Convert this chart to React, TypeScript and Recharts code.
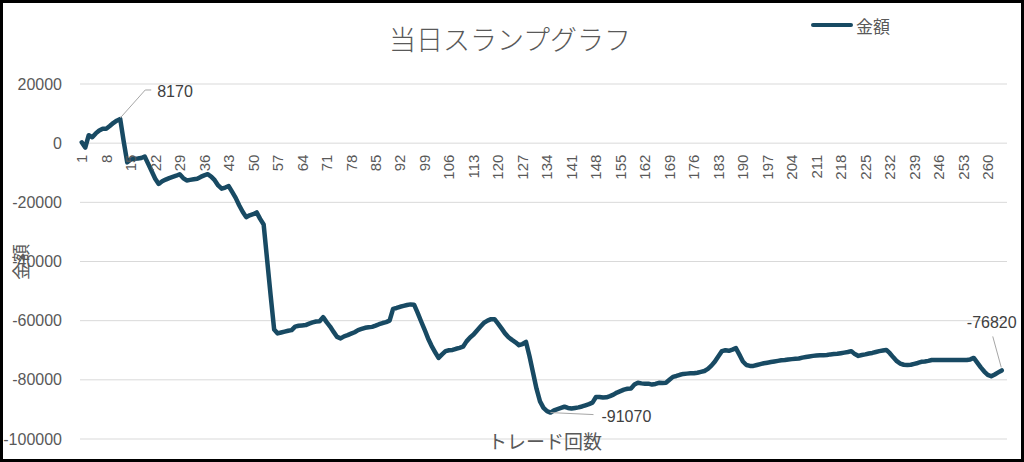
import { CartesianGrid, Line, LineChart, XAxis, YAxis } from "recharts";

// cumulative amount after each trade
const AMOUNTS = [
  300, -1500, 2700, 2000, 3300, 4300, 4900, 4900, 5800, 6800,
  7600, 8170, 500, -6500, -5500, -5300, -5200, -5000, -4500, -7000,
  -9500, -12000, -13800, -12900, -12300, -11800, -11400, -11000, -10500, -11800,
  -12600, -12400, -12200, -12000, -11400, -10900, -10500, -11300, -12500, -14300,
  -15400, -15000, -14500, -16500, -18500, -21000, -23200, -25000, -24400, -24000,
  -23400, -25600, -27500, -39500, -51500, -63000, -64300, -64000, -63700, -63400,
  -63200, -62000, -61700, -61600, -61500, -61000, -60600, -60300, -60200, -58800,
  -60500, -62000, -63800, -65500, -66000, -65300, -64900, -64400, -63900, -63200,
  -62800, -62400, -62200, -62100, -61700, -61200, -60800, -60500, -60000, -56000,
  -55700, -55300, -55000, -54700, -54500, -54600, -57300, -60200, -63000, -66000,
  -68500, -70600, -72600, -71400, -70300, -70000, -69900, -69500, -69200, -68800,
  -67000, -65700, -64700, -63300, -62000, -60700, -60000, -59500, -59500, -61000,
  -62600, -64300, -65600, -66500, -67300, -68300, -67900, -67200, -72000, -77500,
  -83000, -87300, -89500, -90600, -91070, -90300, -89900, -89500, -89100, -89500,
  -89700, -89500, -89300, -89000, -88600, -88200, -87700, -85800, -85800, -86000,
  -85900, -85500, -85000, -84300, -83800, -83300, -83000, -82900, -81600, -81000,
  -81200, -81300, -81300, -81600, -81400, -81000, -81100, -81000, -80000, -79000,
  -78700, -78300, -78000, -77900, -77800, -77800, -77600, -77300, -77000, -76300,
  -75200, -73800, -72000, -70300, -70000, -70200, -69800, -69300, -71500, -73800,
  -75000, -75300, -75300, -75000, -74700, -74400, -74200, -74000, -73800, -73600,
  -73400, -73300, -73100, -73000, -72900, -72800, -72500, -72300, -72100, -71900,
  -71800, -71700, -71700, -71600, -71400, -71300, -71200, -71000, -70800, -70600,
  -70300, -71300, -71900, -71600, -71400, -71100, -70900, -70600, -70300, -70100,
  -69900, -71000, -72400, -73700, -74500, -74900, -75000, -74900, -74600, -74300,
  -73900, -73800, -73600, -73300, -73300, -73300, -73300, -73300, -73300, -73300,
  -73300, -73300, -73300, -73300, -73100, -72600, -74200, -75800, -77200, -78300,
  -78800, -78200, -77500, -76820,
];

const TRADE_NUMBERS = AMOUNTS.map((_, i) => i + 1);

const X_TICKS = [
  1, 8, 15, 22, 29, 36, 43, 50, 57, 64, 71, 78, 85, 92, 99, 106, 113, 120, 127,
  134, 141, 148, 155, 162, 169, 176, 183, 190, 197, 204, 211, 218, 225, 232, 239,
  246, 253, 260,
];
const Y_TICKS = [-100000, -80000, -60000, -40000, -20000, 0, 20000];
const Y_MIN = -100000;
const Y_MAX = 20000;
const CATEGORY_COUNT = 265;

const TITLE = "当日スランプグラフ";
const SERIES_NAME = "金額";
const X_TITLE = "トレード回数";

const W = 1024;
const H = 462;
const MARGIN = { top: 84, right: 17, bottom: 22, left: 20 };
const X_AXIS_H = 1;
const LINE_COLOR = "#184a63";
const TEXT_COLOR = "#595959";
const NUM_FONT = "'Liberation Sans', Arial, sans-serif";
const JP_FONT = "'Noto Sans CJK JP', sans-serif";

const plotHeight = H - MARGIN.top - MARGIN.bottom - X_AXIS_H;
const zeroY = MARGIN.top + (Y_MAX / (Y_MAX - Y_MIN)) * plotHeight;

const rows = TRADE_NUMBERS.map((n, i) => ({ trade: n, amount: AMOUNTS[i] }));

const maxIdx = AMOUNTS.indexOf(Math.max(...AMOUNTS));
const minIdx = AMOUNTS.indexOf(Math.min(...AMOUNTS));
const lastIdx = AMOUNTS.length - 1;

function XTick(props: any) {
  const { x, payload } = props;
  return (
    <text
      transform={`translate(${x + 5.4},${zeroY + 11.5}) rotate(-90)`}
      textAnchor="end"
      fontSize={15}
      fontFamily={NUM_FONT}
      fill={TEXT_COLOR}
    >
      {payload.value}
    </text>
  );
}

function YTick(props: any) {
  const { x, y, payload } = props;
  return (
    <text x={x} y={y + 5.6} textAnchor="end" fontSize={16} fontFamily={NUM_FONT} fill={TEXT_COLOR}>
      {payload.value}
    </text>
  );
}

function AnnotationDot(props: any) {
  const { cx, cy, index, value } = props;
  const key = `dot-${index}`;
  if (cx == null || cy == null) return <g key={key} />;
  const leader = { stroke: "#a6a6a6", strokeWidth: 1, fill: "none" };
  const label = { fontSize: 16, fontFamily: NUM_FONT, fill: "#404040" };
  if (index === maxIdx) {
    return (
      <g key={key}>
        <polyline points={`${cx},${cy - 1} ${cx + 25},${cy - 29} ${cx + 31},${cy - 29}`} {...leader} />
        <text x={cx + 37} y={cy - 22} {...label}>{value}</text>
      </g>
    );
  }
  if (index === minIdx) {
    return (
      <g key={key}>
        <line x1={cx} y1={cy} x2={cx + 43} y2={cy + 2} {...leader} />
        <text x={cx + 51} y={cy + 9} {...label}>{value}</text>
      </g>
    );
  }
  if (index === lastIdx) {
    return (
      <g key={key}>
        <line x1={cx - 0.5} y1={cy - 3} x2={cx - 9} y2={cy - 34} {...leader} />
        <text x={cx - 10} y={cy - 42} textAnchor="middle" {...label}>{value}</text>
      </g>
    );
  }
  return <g key={key} />;
}

export default function App() {
  return (
    <div style={{ position: "absolute", left: 0, top: 0, width: W, height: H, background: "#fff", overflow: "hidden" }}>
      <LineChart width={W} height={H} data={rows} margin={MARGIN}>
        <CartesianGrid stroke="#d9d9d9" vertical={false} />
        <XAxis
          type="number"
          dataKey="trade"
          domain={[0.5, CATEGORY_COUNT + 0.5]}
          ticks={X_TICKS}
          interval={0}
          axisLine={false}
          tickLine={false}
          height={X_AXIS_H}
          tick={(p: any) => <XTick {...p} />}
        />
        <YAxis
          domain={[Y_MIN, Y_MAX]}
          ticks={Y_TICKS}
          interval={0}
          width={60}
          axisLine={false}
          tickLine={false}
          tickSize={0}
          tickMargin={18}
          tick={(p: any) => <YTick {...p} />}
        />
        <Line
          type="linear"
          dataKey="amount"
          name={SERIES_NAME}
          stroke={LINE_COLOR}
          strokeWidth={4.5}
          strokeLinejoin="round"
          strokeLinecap="round"
          dot={(p: any) => <AnnotationDot {...p} />}
          activeDot={false}
          isAnimationActive={false}
        />
      </LineChart>

      <div
        style={{
          position: "absolute",
          left: 510,
          top: 38,
          transform: "translate(-50%, -50%)",
          fontFamily: JP_FONT,
          fontWeight: 300,
          fontSize: 27,
          color: TEXT_COLOR,
          whiteSpace: "nowrap",
          lineHeight: 1,
        }}
      >
        {TITLE}
      </div>

      <div style={{ position: "absolute", left: 811, top: 15, height: 20, display: "flex", alignItems: "center" }}>
        <span style={{ display: "inline-block", width: 42, height: 4.5, borderRadius: 2.25, background: LINE_COLOR }} />
        <span style={{ marginLeft: 3, fontFamily: JP_FONT, fontSize: 17, color: TEXT_COLOR, lineHeight: 1 }}>
          {SERIES_NAME}
        </span>
      </div>

      <div
        style={{
          position: "absolute",
          left: 20,
          top: 261.5,
          transform: "translate(-50%, -50%) rotate(-90deg)",
          fontFamily: JP_FONT,
          fontSize: 18,
          color: TEXT_COLOR,
          whiteSpace: "nowrap",
          lineHeight: 1,
        }}
      >
        {SERIES_NAME}
      </div>

      <div
        style={{
          position: "absolute",
          left: 545,
          top: 440,
          transform: "translate(-50%, -50%)",
          fontFamily: JP_FONT,
          fontSize: 19,
          color: TEXT_COLOR,
          whiteSpace: "nowrap",
          lineHeight: 1,
        }}
      >
        {X_TITLE}
      </div>

      <div
        style={{
          position: "absolute",
          inset: 0,
          border: "3px solid #000",
          boxSizing: "border-box",
          pointerEvents: "none",
        }}
      />
    </div>
  );
}
